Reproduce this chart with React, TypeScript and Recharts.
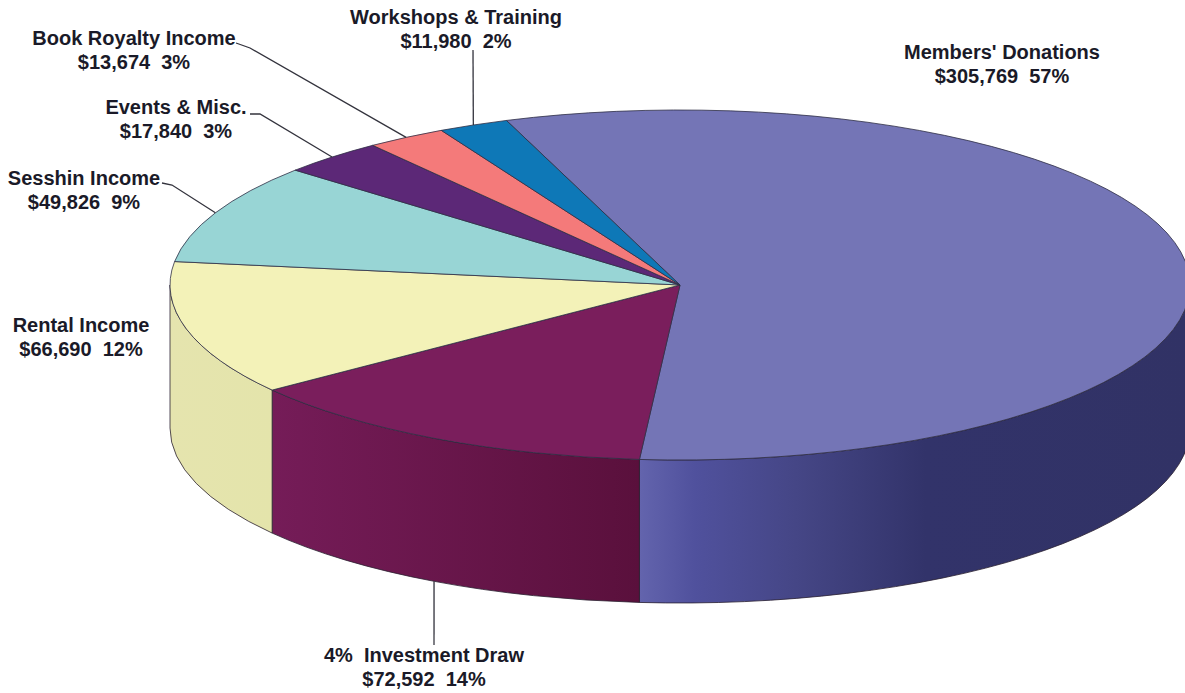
import React from "react";
import { PieChart, Pie, Cell } from "recharts";

const categories = [
  "Members' Donations",
  "4%  Investment Draw",
  "Rental Income",
  "Sesshin Income",
  "Events & Misc.",
  "Book Royalty Income",
  "Workshops & Training",
];
const amounts = [305769, 72592, 66690, 49826, 17840, 13674, 11980];
const percentLabels = [57, 14, 12, 9, 3, 3, 2];

const topColors = ["#7475b6", "#7a1e5c", "#f3f2b8", "#98d5d5", "#5c2877", "#f47a7a", "#0e78b7"];
const wallFills = ["url(#wallMembers)", "url(#wallInvest)", "url(#wallRental)", "none", "none", "none", "none"];

// Layout of the annotations (not data): label centre, first baseline, leader elbows
const labelX = [1002, 424, 81, 84, 176, 134, 456];
const labelY = [59, 662, 332, 185, 114, 45, 24];
const leaderElbows: number[][][] = [
  [],
  [[434, 645]],
  [],
  [[162, 183], [172, 185]],
  [[250, 114], [260, 114]],
  [[236, 43], [250, 48]],
  [[473, 50]],
];

const WIDTH = 1185;
const HEIGHT = 693;
const CX = 680;
const CY = 285;
const RX = 510;
const SQUASH = 175 / 510;
const DEPTH = 143;
const LINE_GAP = 24;
const FONT = "'Liberation Sans', Arial, sans-serif";

const rad = (d: number) => (d * Math.PI) / 180;
const ptX = (cx: number, r: number, a: number) => cx + r * Math.cos(rad(a));
const ptY = (cy: number, r: number, a: number) => cy - r * SQUASH * Math.sin(rad(a));

const tableData = categories.map((name, i) => ({ name, amount: amounts[i], pct: percentLabels[i], idx: i }));

function EllipticalSlice(props: any) {
  const { cx, cy, outerRadius: r, startAngle, endAngle, fill, payload } = props;
  const idx = payload?.idx ?? props.idx ?? 0;
  const ry = r * SQUASH;
  const large = Math.abs(startAngle - endAngle) > 180 ? 1 : 0;
  const top = `M${cx},${cy} L${ptX(cx, r, startAngle)},${ptY(cy, r, startAngle)} A${r},${ry} 0 ${large} 1 ${ptX(cx, r, endAngle)},${ptY(cy, r, endAngle)} Z`;
  const a1 = Math.min(startAngle, 0);
  const a2 = Math.max(endAngle, -180);
  const showWall = a1 > a2;
  const wall = showWall
    ? `M${ptX(cx, r, a1)},${ptY(cy, r, a1)} A${r},${ry} 0 0 1 ${ptX(cx, r, a2)},${ptY(cy, r, a2)} L${ptX(cx, r, a2)},${ptY(cy, r, a2) + DEPTH} A${r},${ry} 0 0 0 ${ptX(cx, r, a1)},${ptY(cy, r, a1) + DEPTH} Z`
    : "";
  return (
    <g>
      {showWall && <path d={wall} fill={wallFills[idx]} stroke="#2a2030" strokeWidth={0.8} />}
      <path d={top} fill={fill} stroke="#2f2f45" strokeWidth={0.8} strokeLinejoin="round" />
    </g>
  );
}

function SliceLabel(props: any) {
  const idx = props.payload?.idx ?? props.idx ?? props.index;
  return (
    <text
      textAnchor="middle"
      fontFamily={FONT}
      fontWeight={700}
      fontSize={20}
      fill="#1a1a28"
      style={{ whiteSpace: "pre" }}
    >
      <tspan x={labelX[idx]} y={labelY[idx]}>{categories[idx]}</tspan>
      <tspan x={labelX[idx]} y={labelY[idx] + LINE_GAP}>
        {`$${amounts[idx].toLocaleString("en-US")}  ${percentLabels[idx]}%`}
      </tspan>
    </text>
  );
}

function SliceLeader(props: any) {
  const idx = props.payload?.idx ?? props.idx ?? props.index;
  const elbows = leaderElbows[idx];
  if (!elbows || elbows.length === 0) return <g />;
  const { cx, cy, outerRadius: r, midAngle } = props;
  const ax = ptX(cx, r, midAngle);
  const lower = Math.sin(rad(midAngle)) < 0;
  const ay = ptY(cy, r, midAngle) + (lower ? DEPTH : 0);
  const pts = [...elbows, [ax, ay]].map((p) => p.join(",")).join(" ");
  return <polyline points={pts} fill="none" stroke="#33333d" strokeWidth={1.3} />;
}

export default function App() {
  return (
    <div style={{ position: "absolute", left: 0, top: 0, width: WIDTH, height: HEIGHT, background: "#fff" }}>
      <PieChart width={WIDTH} height={HEIGHT} margin={{ top: 0, right: 0, bottom: 0, left: 0 }}>
        <defs>
          <linearGradient id="wallMembers" x1="0" y1="0" x2="1" y2="0">
            <stop offset="0" stopColor="#6364ad" />
            <stop offset="0.1" stopColor="#50519d" />
            <stop offset="0.3" stopColor="#444584" />
            <stop offset="0.52" stopColor="#32336a" />
            <stop offset="1" stopColor="#313265" />
          </linearGradient>
          <linearGradient id="wallInvest" x1="0" y1="0" x2="1" y2="0">
            <stop offset="0" stopColor="#751c58" />
            <stop offset="1" stopColor="#5a103c" />
          </linearGradient>
          <linearGradient id="wallRental" x1="0" y1="0" x2="1" y2="0">
            <stop offset="0" stopColor="#e5e4ae" />
            <stop offset="1" stopColor="#e4e4ab" />
          </linearGradient>
        </defs>
        <Pie
          data={tableData}
          dataKey="amount"
          nameKey="name"
          cx={CX}
          cy={CY}
          innerRadius={0}
          outerRadius={RX}
          startAngle={109.9}
          endAngle={-250.1}
          isAnimationActive={false}
          shape={EllipticalSlice}
          label={SliceLabel}
          labelLine={SliceLeader}
          stroke="none"
        >
          {tableData.map((d, i) => (
            <Cell key={d.name} fill={topColors[i]} />
          ))}
        </Pie>
      </PieChart>
    </div>
  );
}
